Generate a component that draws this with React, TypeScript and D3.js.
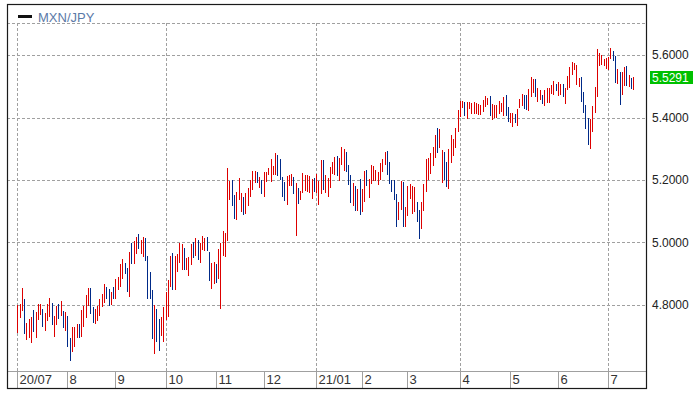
import { useEffect, useRef } from 'react';
import * as d3 from 'd3';

// daily bars MXN/JPY, 2020/07 .. 2021/07 (high / low)
const highs = [
  4.800, 4.801, 4.853, 4.820, 4.741, 4.753, 4.761, 4.782, 4.776, 4.801,
  4.804, 4.785, 4.773, 4.801, 4.823, 4.807, 4.763, 4.796, 4.801, 4.811,
  4.779, 4.776, 4.763, 4.693, 4.728, 4.728, 4.738, 4.738, 4.782, 4.795,
  4.830, 4.853, 4.855, 4.792, 4.785, 4.795, 4.820, 4.833, 4.865, 4.858,
  4.849, 4.842, 4.858, 4.884, 4.890, 4.931, 4.947, 4.934, 4.919, 4.969,
  4.998, 5.004, 5.017, 5.026, 5.007, 5.017, 5.014, 4.957, 4.906, 4.846,
  4.798, 4.785, 4.753, 4.760, 4.792, 4.842, 4.880, 4.957, 4.967, 4.957,
  4.964, 4.999, 4.996, 4.983, 4.951, 4.954, 4.996, 5.002, 5.015, 5.008,
  4.999, 5.021, 5.015, 5.018, 4.970, 4.935, 4.938, 4.931, 4.980, 4.999,
  5.037, 5.031, 5.240, 5.197, 5.200, 5.153, 5.163, 5.206, 5.159, 5.146,
  5.159, 5.175, 5.200, 5.229, 5.230, 5.227, 5.210, 5.200, 5.226, 5.226,
  5.240, 5.268, 5.246, 5.285, 5.281, 5.268, 5.210, 5.195, 5.213, 5.216,
  5.219, 5.210, 5.190, 5.175, 5.166, 5.221, 5.216, 5.216, 5.213, 5.203,
  5.206, 5.219, 5.197, 5.263, 5.263, 5.215, 5.206, 5.241, 5.257, 5.273,
  5.276, 5.270, 5.305, 5.299, 5.289, 5.247, 5.215, 5.190, 5.180, 5.171,
  5.203, 5.171, 5.228, 5.231, 5.203, 5.247, 5.244, 5.231, 5.225, 5.254,
  5.267, 5.289, 5.292, 5.257, 5.199, 5.199, 5.155, 5.130, 5.196, 5.193,
  5.114, 5.180, 5.187, 5.180, 5.177, 5.130, 5.104, 5.129, 5.187, 5.267,
  5.270, 5.286, 5.305, 5.343, 5.366, 5.363, 5.295, 5.289, 5.257, 5.299,
  5.343, 5.331, 5.366, 5.423, 5.452, 5.452, 5.449, 5.449, 5.449, 5.446,
  5.449, 5.446, 5.443, 5.440, 5.456, 5.469, 5.462, 5.469, 5.443, 5.440,
  5.440, 5.453, 5.446, 5.466, 5.472, 5.433, 5.414, 5.414, 5.411, 5.427,
  5.459, 5.475, 5.472, 5.472, 5.491, 5.530, 5.524, 5.524, 5.495, 5.488,
  5.472, 5.488, 5.495, 5.495, 5.504, 5.517, 5.508, 5.514, 5.508, 5.508,
  5.495, 5.533, 5.562, 5.579, 5.575, 5.569, 5.527, 5.530, 5.482, 5.440,
  5.398, 5.395, 5.437, 5.498, 5.620, 5.608, 5.601, 5.588, 5.591, 5.595,
  5.624, 5.614, 5.598, 5.556, 5.546, 5.546, 5.562, 5.566, 5.537, 5.527,
  5.530,
];

const lows = [
  4.709, 4.758, 4.780, 4.707, 4.687, 4.694, 4.678, 4.713, 4.694, 4.750,
  4.766, 4.729, 4.716, 4.747, 4.761, 4.735, 4.697, 4.735, 4.755, 4.764,
  4.726, 4.716, 4.666, 4.621, 4.650, 4.666, 4.694, 4.694, 4.697, 4.729,
  4.756, 4.795, 4.769, 4.741, 4.738, 4.748, 4.764, 4.792, 4.807, 4.820,
  4.795, 4.798, 4.817, 4.820, 4.846, 4.858, 4.884, 4.899, 4.842, 4.826,
  4.931, 4.931, 4.963, 4.979, 4.963, 4.953, 4.941, 4.820, 4.817, 4.690,
  4.642, 4.680, 4.652, 4.700, 4.680, 4.750, 4.760, 4.858, 4.846, 4.846,
  4.904, 4.933, 4.913, 4.910, 4.913, 4.891, 4.926, 4.949, 4.955, 4.945,
  4.933, 4.976, 4.973, 4.973, 4.875, 4.849, 4.868, 4.871, 4.881, 4.788,
  4.955, 4.952, 5.005, 5.137, 5.118, 5.076, 5.071, 5.137, 5.096, 5.087,
  5.090, 5.118, 5.146, 5.169, 5.189, 5.189, 5.175, 5.156, 5.146, 5.195,
  5.216, 5.195, 5.216, 5.216, 5.213, 5.200, 5.146, 5.134, 5.121, 5.182,
  5.182, 5.156, 5.021, 5.124, 5.137, 5.159, 5.166, 5.163, 5.159, 5.140,
  5.163, 5.159, 5.121, 5.156, 5.169, 5.158, 5.146, 5.174, 5.219, 5.215,
  5.212, 5.198, 5.247, 5.228, 5.225, 5.183, 5.126, 5.117, 5.101, 5.101,
  5.088, 5.098, 5.130, 5.181, 5.143, 5.187, 5.197, 5.196, 5.184, 5.199,
  5.225, 5.247, 5.215, 5.187, 5.161, 5.136, 5.048, 5.072, 5.104, 5.048,
  5.050, 5.085, 5.140, 5.090, 5.098, 5.066, 5.012, 5.044, 5.101, 5.162,
  5.199, 5.220, 5.244, 5.270, 5.286, 5.302, 5.191, 5.199, 5.177, 5.172,
  5.254, 5.277, 5.302, 5.353, 5.403, 5.431, 5.406, 5.394, 5.426, 5.413,
  5.410, 5.411, 5.408, 5.408, 5.418, 5.433, 5.440, 5.404, 5.391, 5.398,
  5.398, 5.411, 5.417, 5.404, 5.404, 5.385, 5.382, 5.369, 5.382, 5.372,
  5.430, 5.437, 5.427, 5.424, 5.420, 5.466, 5.479, 5.466, 5.450, 5.456,
  5.443, 5.437, 5.446, 5.446, 5.475, 5.472, 5.485, 5.469, 5.472, 5.466,
  5.443, 5.488, 5.495, 5.537, 5.553, 5.504, 5.498, 5.450, 5.414, 5.362,
  5.311, 5.298, 5.353, 5.414, 5.466, 5.566, 5.569, 5.566, 5.556, 5.553,
  5.588, 5.582, 5.511, 5.508, 5.440, 5.472, 5.501, 5.501, 5.498, 5.491,
  5.488,
];

// u = closed up (red), d = closed down (blue)
const moves = [
  'uuuduuuduu', 'uduuuduudu', 'dudduuuduu', 'uudduuuuud', 'duduuuuddu',
  'duuduudddd', 'udduuuuudu', 'uuuduuudud', 'uuudduuduu', 'uuuudduuud',
  'uuuuududuu', 'uuuudddduu', 'ududuuuuuu', 'duuuduuuuu', 'duuudddudu',
  'duuduuuuuu', 'uuddddduud', 'uuuuudduuu', 'uuuuduuddu', 'uuuuuuduuu',
  'uuuuuuuduu', 'uuuudduudu', 'uudduuuduu', 'duuuuuduud', 'uuuuuuuddd',
  'duuuuuuuuu', 'udduduudud', 'u',
].join('');

const monthLabels = ['20/07', '8', '9', '10', '11', '12', '21/01', '2', '3', '4', '5', '6', '7'];
const monthStarts = [0, 22, 43, 65, 87, 108, 131, 151, 171, 194, 216, 237, 259];
const quarterLabels = ['20/07', '10', '21/01', '4', '7'];

const priceTicks = [4.8, 5.0, 5.2, 5.4, 5.6];
const lastPrice = 5.5291;
const seriesName = 'MXN/JPY';

export default function App() {
  const svgRef = useRef<SVGSVGElement>(null);

  useEffect(() => {
    if (!svgRef.current) return;
    const svg = d3.select(svgRef.current);
    svg.selectAll('*').remove();

    const width = 700;
    const height = 395;
    const frame = { left: 7, top: 4, right: 646, bottom: 388 };
    const plotTop = 23;
    const plotBottom = 371;
    const font = 'Liberation Sans, Arial, sans-serif';
    const gridColor = '#a0a0a0';
    const up = '#dd0000';
    const down = '#002a88';

    svg.attr('width', width).attr('height', height);

    const x = d3.scaleLinear().domain([0, highs.length - 1]).range([17.3, 633.3]);
    const y = d3.scaleLinear().domain([4.5877, 5.7032]).range([plotBottom, plotTop]);
    const px = (i: number) => Math.round(x(i)) + 0.5;
    const py = (v: number) => Math.round(y(v)) + 0.5;

    const g = svg.append('g');

    // Background
    g.append('rect')
      .attr('x', 0).attr('y', 0)
      .attr('width', width).attr('height', height)
      .attr('fill', '#ffffff');

    // Horizontal grid (top line of the plot + price ticks)
    [plotTop + 0.5, ...priceTicks.map(py)].forEach((yy) => {
      g.append('line')
        .attr('x1', frame.left).attr('x2', frame.right)
        .attr('y1', yy).attr('y2', yy)
        .attr('stroke', gridColor)
        .attr('stroke-dasharray', '3,2');
    });

    // Vertical grid at quarter starts
    monthLabels.forEach((label, k) => {
      if (!quarterLabels.includes(label)) return;
      const xx = px(monthStarts[k]);
      g.append('line')
        .attr('x1', xx).attr('x2', xx)
        .attr('y1', plotTop).attr('y2', plotBottom)
        .attr('stroke', gridColor)
        .attr('stroke-dasharray', '3,2');
    });

    // Bars (high-low)
    highs.forEach((h, i) => {
      g.append('line')
        .attr('x1', px(i)).attr('x2', px(i))
        .attr('y1', y(h)).attr('y2', y(lows[i]))
        .attr('stroke', moves[i] === 'u' ? up : down)
        .attr('stroke-width', 1)
        .attr('shape-rendering', 'crispEdges');
    });

    // Time axis band
    g.append('line')
      .attr('x1', frame.left).attr('x2', frame.right)
      .attr('y1', plotBottom + 0.5).attr('y2', plotBottom + 0.5)
      .attr('stroke', '#a0a0a0');

    monthLabels.forEach((label, k) => {
      const xx = px(monthStarts[k]);
      g.append('line')
        .attr('x1', xx).attr('x2', xx)
        .attr('y1', plotBottom).attr('y2', frame.bottom)
        .attr('stroke', '#a0a0a0');
      g.append('text')
        .attr('x', xx + 2)
        .attr('y', 383.5)
        .attr('fill', '#333333')
        .attr('font-size', '13px')
        .attr('font-family', font)
        .text(label);
    });

    // Frame
    g.append('rect')
      .attr('x', frame.left + 0.5).attr('y', frame.top + 0.5)
      .attr('width', frame.right - frame.left).attr('height', frame.bottom - frame.top)
      .attr('fill', 'none')
      .attr('stroke', '#1a1a1a')
      .attr('stroke-width', 1.2);

    // Price labels on the right
    priceTicks.forEach((v) => {
      g.append('text')
        .attr('x', 652)
        .attr('y', y(v) + 4.3)
        .attr('fill', '#222222')
        .attr('font-size', '12px')
        .attr('font-family', font)
        .text(d3.format('.4f')(v));
    });

    // Last price tag
    const ly = y(lastPrice);
    g.append('rect')
      .attr('x', 650).attr('y', Math.round(ly) - 6)
      .attr('width', 43).attr('height', 13)
      .attr('fill', '#00c000');
    g.append('text')
      .attr('x', 652)
      .attr('y', ly + 4.3)
      .attr('fill', '#ffffff')
      .attr('font-size', '12px')
      .attr('font-family', font)
      .text(d3.format('.4f')(lastPrice));

    // Legend
    g.append('rect')
      .attr('x', 18).attr('y', 15)
      .attr('width', 14).attr('height', 3)
      .attr('fill', '#111111');
    g.append('text')
      .attr('x', 38)
      .attr('y', 22)
      .attr('fill', '#5b7aa8')
      .attr('font-size', '13px')
      .attr('font-family', font)
      .text(seriesName);
  }, []);

  return (
    <div style={{ position: 'absolute', left: 0, top: 0 }}>
      <svg ref={svgRef} style={{ display: 'block' }} />
    </div>
  );
}
